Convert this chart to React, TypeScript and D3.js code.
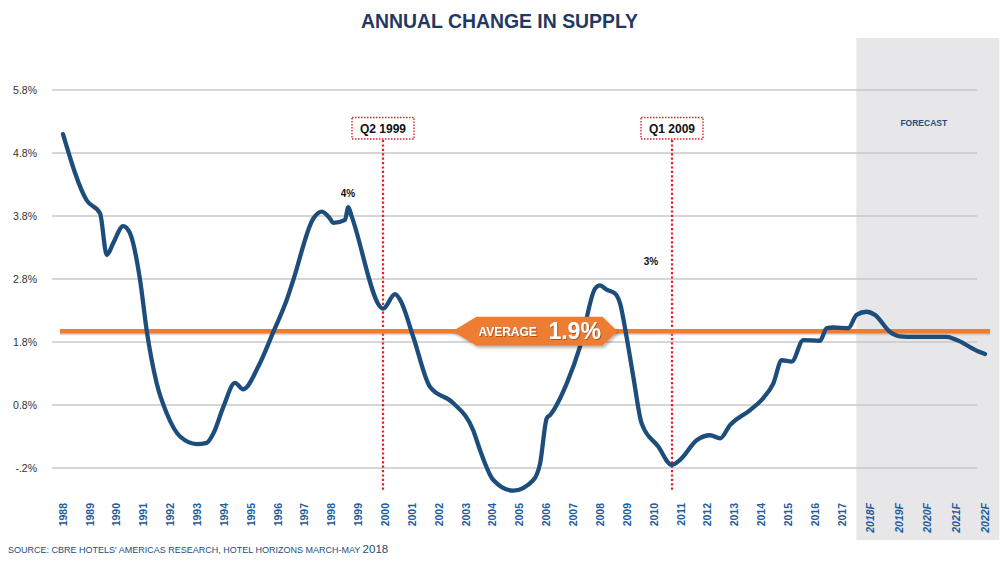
import React from "react";
import * as d3 from "d3";

const years = [1988.0, 1988.88, 1989.38, 1989.63, 1989.87, 1990.24, 1990.49, 1990.87, 1991.12, 1991.49, 1991.86, 1992.36, 1992.98, 1993.35, 1993.6, 1993.97, 1994.4, 1994.71, 1995.27, 1995.83, 1996.33, 1996.57, 1997.32, 1997.63, 1997.94, 1998.06, 1998.5, 1998.62, 1998.75, 1999.92, 2000.36, 2000.55, 2001.04, 2001.66, 2002.53, 2003.27, 2003.52, 2004.02, 2004.76, 2005.51, 2005.76, 2006.01, 2006.13, 2006.75, 2007.25, 2007.81, 2007.99, 2008.24, 2008.55, 2008.74, 2008.98, 2009.23, 2009.54, 2010.16, 2010.66, 2010.97, 2011.59, 2012.09, 2012.46, 2012.83, 2013.58, 2014.07, 2014.44, 2014.76, 2015.13, 2015.56, 2016.18, 2016.43, 2016.68, 2017.22, 2017.51, 2017.86, 2018.15, 2018.68, 2019.03, 2019.49, 2020.66, 2021.01, 2021.77, 2022.0];
const supply = [5.1, 4.05, 3.84, 3.18, 3.37, 3.64, 3.53, 2.78, 1.97, 1.14, 0.67, 0.3, 0.18, 0.2, 0.35, 0.77, 1.15, 1.05, 1.41, 1.96, 2.47, 2.78, 3.76, 3.87, 3.76, 3.69, 3.74, 3.94, 3.79, 2.33, 2.56, 2.47, 1.88, 1.09, 0.83, 0.4, 0.09, -0.39, -0.56, -0.39, -0.13, 0.59, 0.64, 1.14, 1.73, 2.65, 2.7, 2.63, 2.57, 2.41, 1.88, 1.25, 0.51, 0.14, -0.15, -0.07, 0.24, 0.32, 0.27, 0.48, 0.72, 0.91, 1.14, 1.51, 1.49, 1.83, 1.82, 2.02, 2.03, 2.02, 2.23, 2.28, 2.23, 1.96, 1.89, 1.88, 1.88, 1.83, 1.65, 1.61];

const yTicks = [5.8, 4.8, 3.8, 2.8, 1.8, 0.8, -0.2];
const yTickLabels = ["5.8%", "4.8%", "3.8%", "2.8%", "1.8%", "0.8%", "-.2%"];
const xLabels = ["1988", "1989", "1990", "1991", "1992", "1993", "1994", "1995", "1996", "1997", "1998", "1999", "2000", "2001", "2002", "2003", "2004", "2005", "2006", "2007", "2008", "2009", "2010", "2011", "2012", "2013", "2014", "2015", "2016", "2017", "2018F", "2019F", "2020F", "2021F", "2022F"];
const xLabelYears = [1988, 1989, 1990, 1991, 1992, 1993, 1994, 1995, 1996, 1997, 1998, 1999, 2000, 2001, 2002, 2003, 2004, 2005, 2006, 2007, 2008, 2009, 2010, 2011, 2012, 2013, 2014, 2015, 2016, 2017, 2018, 2019, 2020, 2021, 2022];

const eventLabels = ["Q2 1999", "Q1 2009"];
const eventYears = [1999.92, 2010.67];
const peakLabels = ["4%", "3%"];
const peakYears = [1998.61, 2009.89];
const peakValues = [4.165, 3.07];
const averageValue = 1.97;
const averageText = "1.9%";
const forecastStart = 2017.5;
const forecastEnd = 2022.5;

const NAVY = "#1f3864";
const LINE = "#1d4e7b";
const ORANGE = "#ed7d31";
const RED = "#e0202a";
const FONT = "'Liberation Sans', Arial, sans-serif";

export default function App() {
  const W = 1000, H = 573;
  const x = d3.scaleLinear().domain([1988, 2017, 2022]).range([63, 842, 985]);
  const y = d3.scaleLinear().domain([-0.2, 5.8]).range([468, 90]);
  const pts: [number, number][] = years.map((yr, i) => [yr, supply[i]]);
  const line = d3.line<[number, number]>().x(d => x(d[0])).y(d => y(d[1])).curve(d3.curveMonotoneX);
  const ay = y(averageValue);
  const cx = x(2005.55);
  const hx0 = cx - 82, hx1 = cx - 58, hx2 = cx + 68, hx3 = cx + 83;
  const hexPts = [[hx0, ay], [hx1, ay - 14.5], [hx2, ay - 14.5], [hx3, ay], [hx2, ay + 14.5], [hx1, ay + 14.5]];
  return (
    <svg width={W} height={H} style={{ position: "absolute", left: 0, top: 0, background: "#fff" }} fontFamily={FONT}>
      <defs>
        <filter id="sh" x="-10%" y="-30%" width="130%" height="180%">
          <feDropShadow dx="1.5" dy="2" stdDeviation="1.5" floodColor="#000" floodOpacity="0.3" />
        </filter>
        <filter id="tsh" x="-10%" y="-30%" width="130%" height="180%">
          <feDropShadow dx="1" dy="1" stdDeviation="0.6" floodColor="#7a3a10" floodOpacity="0.6" />
        </filter>
      </defs>
      <rect x={x(forecastStart)} y={38} width={x(forecastEnd) - x(forecastStart)} height={502} fill="#e7e7e9" />
      <text x={361} y={27.5} textLength={277} lengthAdjust="spacingAndGlyphs" fontWeight="bold" fontSize={20} fill={NAVY}>ANNUAL CHANGE IN SUPPLY</text>
      {yTicks.map((t, i) => (
        <g key={t}>
          <line x1={52} x2={977} y1={y(t)} y2={y(t)} stroke="#c9c9c9" strokeWidth={1.5} />
          <text x={37} y={y(t)} dy="0.35em" textAnchor="end" fontSize={10.5} fill="#333">{yTickLabels[i]}</text>
        </g>
      ))}
      <text x={(x(forecastStart) + x(forecastEnd)) / 2 - 4} y={123} dy="0.35em" textAnchor="middle" fontSize={8.5} fontWeight="bold" fill={LINE}>FORECAST</text>
      {eventYears.map((ev, i) => {
        const ex = Math.round(x(ev));
        return (
          <g key={ev}>
            <line x1={ex} x2={ex} y1={140} y2={492} stroke={RED} strokeWidth={2.2} strokeDasharray="2.2,2.2" />
            <rect x={ex - 31} y={117.5} width={62} height={21.5} fill="#fff" stroke={RED} strokeWidth={1.4} strokeDasharray="1.5,1.5" />
            <text x={ex} y={128.5} dy="0.35em" textAnchor="middle" fontSize={12} fontWeight="bold" fill="#111">{eventLabels[i]}</text>
          </g>
        );
      })}
      {peakLabels.map((p, i) => (
        <text key={p} x={x(peakYears[i])} y={y(peakValues[i])} dy="0.35em" textAnchor="middle" fontSize={10} fontWeight="bold" fill="#111">{p}</text>
      ))}
      <line x1={60} x2={990} y1={ay + 2} y2={ay + 2} stroke="#999" strokeOpacity={0.35} strokeWidth={4} />
      <line x1={60} x2={990} y1={ay} y2={ay} stroke={ORANGE} strokeWidth={4.5} />
      <path d={line(pts) || ""} fill="none" stroke={LINE} strokeWidth={4.3} strokeLinejoin="round" strokeLinecap="round" />
      <polygon points={hexPts.map(p => p.join(",")).join(" ")} fill={ORANGE} filter="url(#sh)" />
      <g filter="url(#tsh)">
        <text x={cx - 56} y={ay + 5} fontSize={12} fontWeight="bold" fill="#fff">AVERAGE</text>
        <text x={cx + 14} y={ay + 8} fontSize={23} fontWeight="bold" fill="#fff">{averageText}</text>
      </g>
      {xLabels.map((l, i) => (
        <text key={l} transform={`translate(${x(xLabelYears[i])},503) rotate(-90)`} dy="0.35em" textAnchor="end" fontSize={10.5} fontWeight="bold" fontStyle={l.endsWith("F") ? "italic" : "normal"} fill="#1f5c99">{l}</text>
      ))}
      <text x={8} y={553} fontSize={9} fill={LINE}>SOURCE: CBRE HOTELS' AMERICAS RESEARCH, HOTEL HORIZONS MARCH-MAY <tspan fontSize={11.5}>2018</tspan></text>
    </svg>
  );
}
